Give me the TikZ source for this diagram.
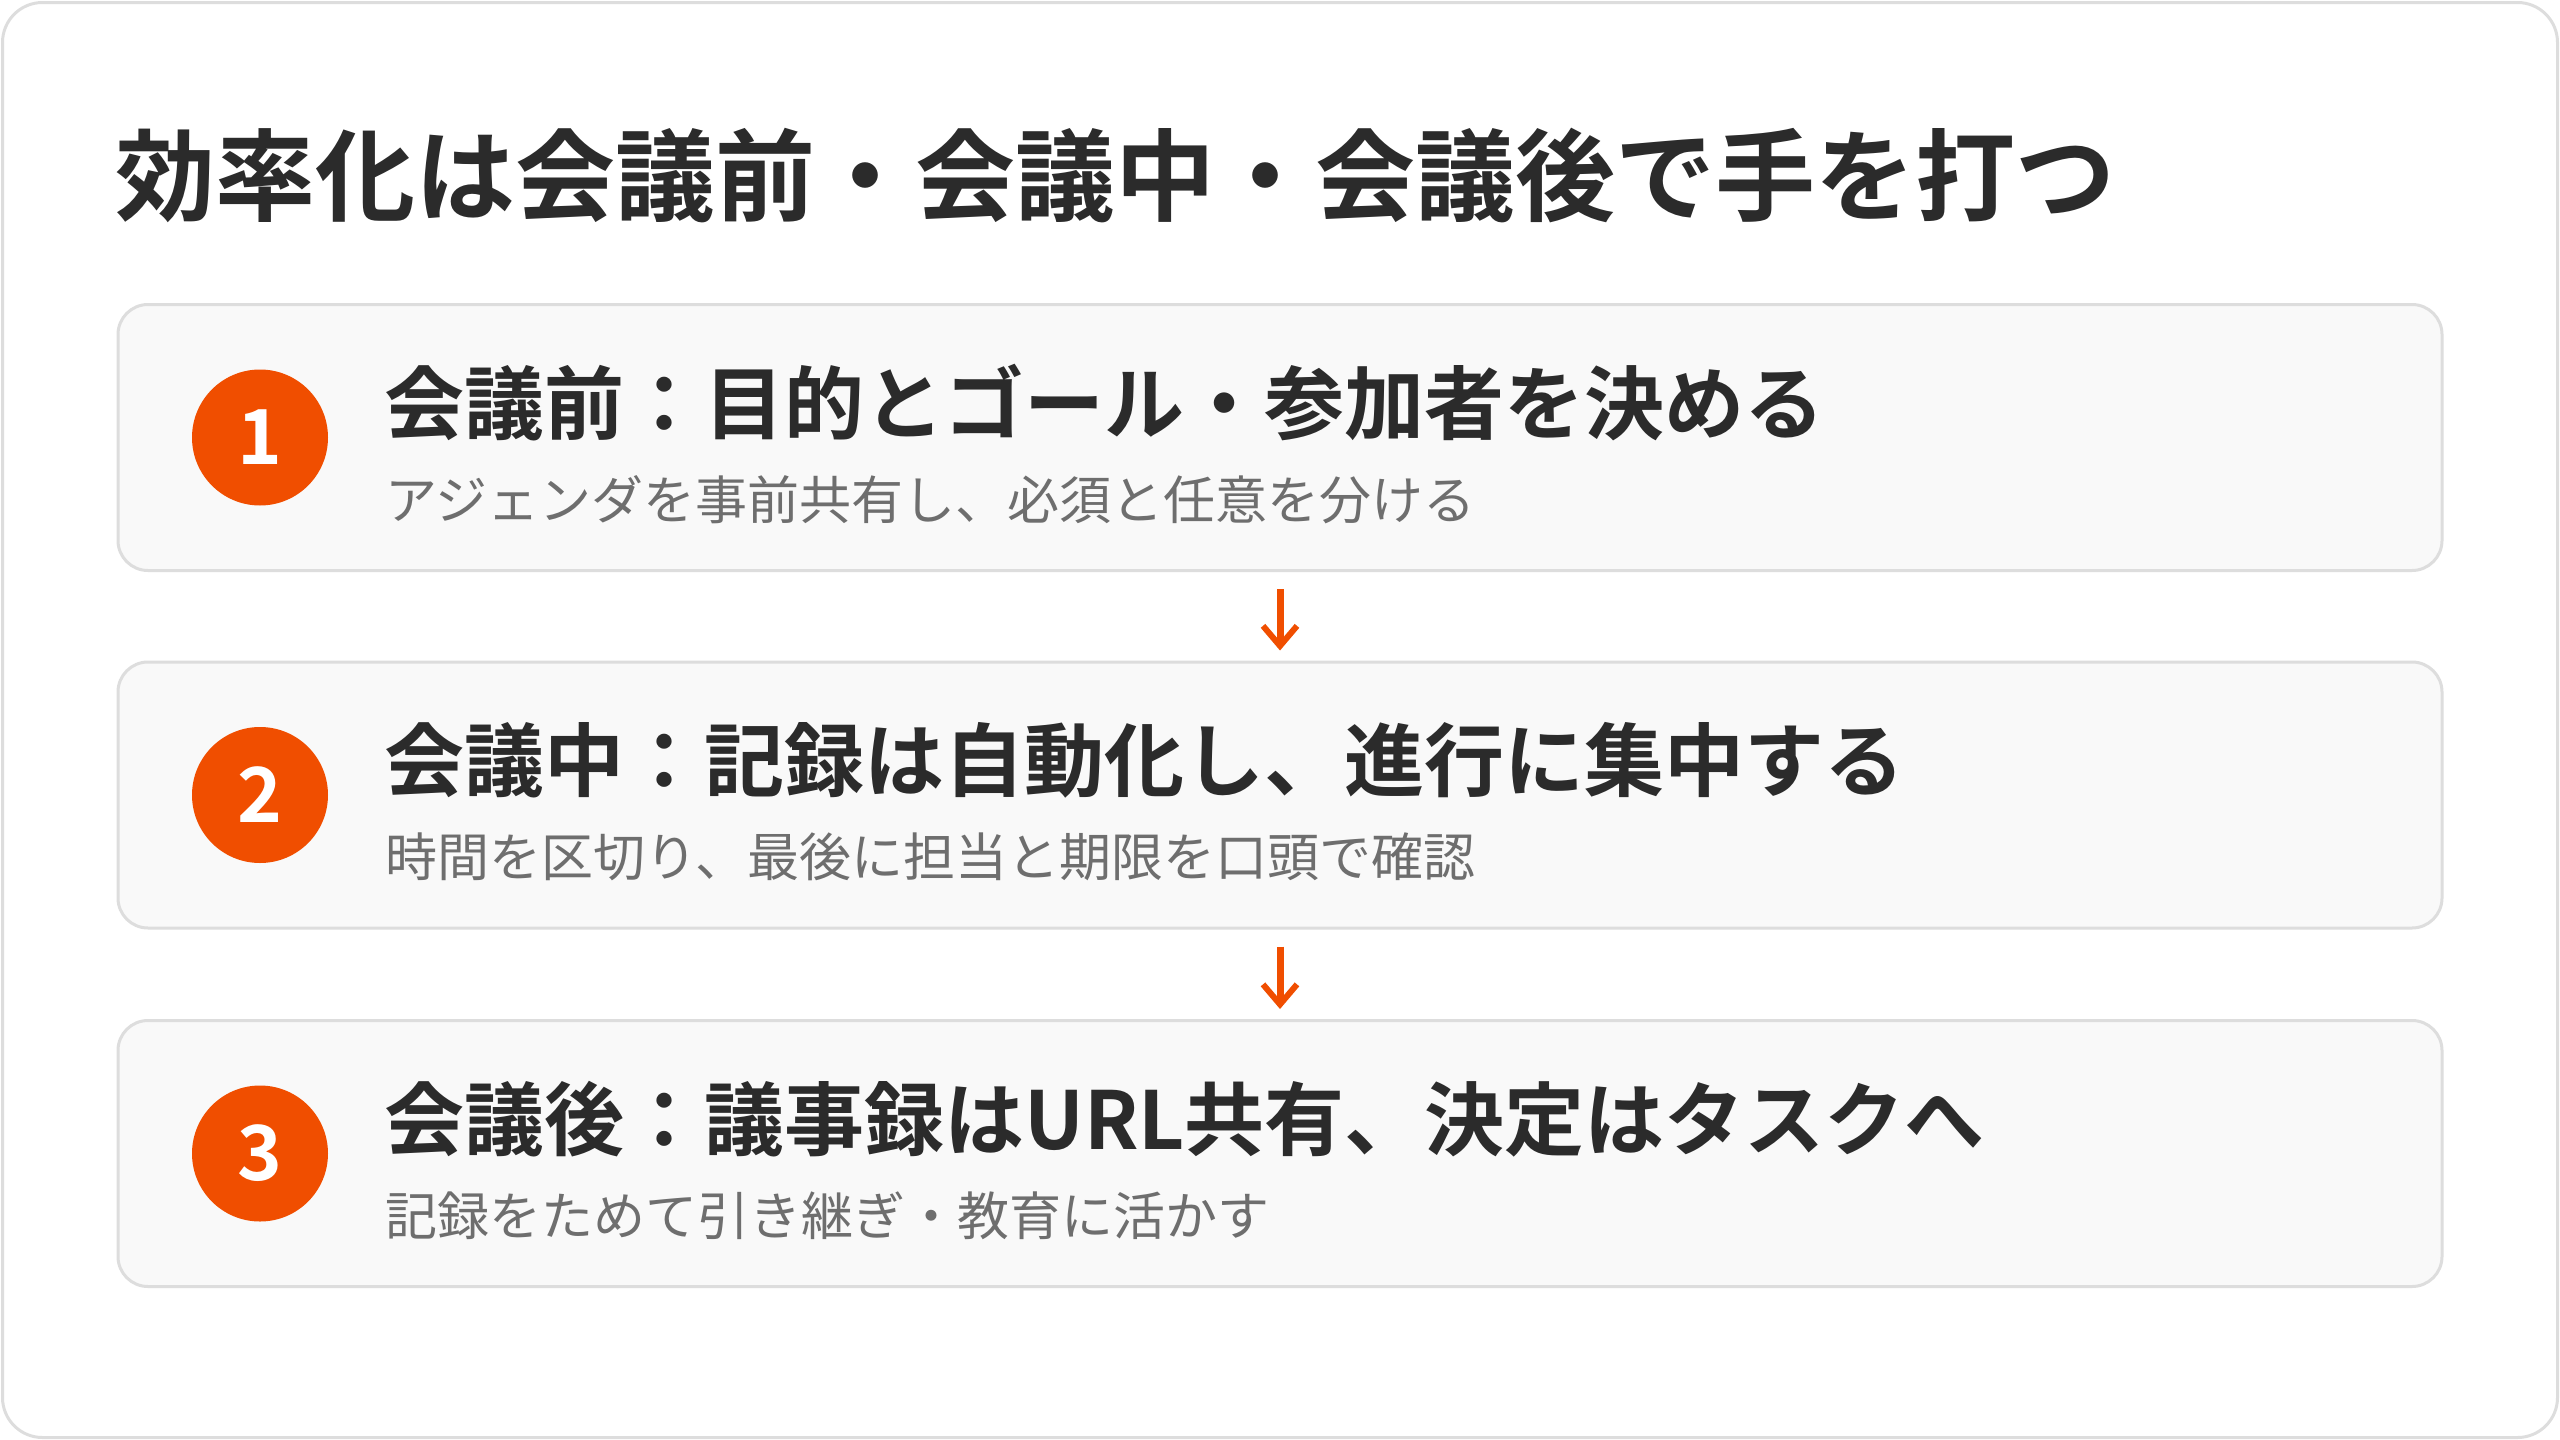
\documentclass[tikz,border=0pt]{standalone}
\usepackage{fontspec}
\setmainfont{Noto Sans CJK JP}[BoldFont={Noto Sans CJK JP Bold}]
\usetikzlibrary{arrows.meta}
\definecolor{framegray}{HTML}{DDDDDD}
\definecolor{cardfill}{HTML}{F9F9F9}
\definecolor{ink}{HTML}{2B2B2B}
\definecolor{subgray}{HTML}{6E6E6E}
\definecolor{accent}{HTML}{F04E00}
\tikzset{
  card/.style={draw=framegray, line width=3pt, fill=cardfill, rounded corners=30pt,
    minimum width=2324pt, minimum height=266pt, inner sep=0pt},
  numc/.style={circle, fill=accent, minimum size=136pt, inner sep=0pt, text=white,
    font=\fontsize{76pt}{80pt}\selectfont\bfseries},
  headtxt/.style={anchor=base west, inner sep=0pt, text=ink,
    font=\fontsize{80pt}{90pt}\selectfont\bfseries},
  subtxt/.style={anchor=base west, inner sep=0pt, text=subgray,
    font=\fontsize{52pt}{60pt}\selectfont},
  titletxt/.style={anchor=base west, inner sep=0pt, text=ink,
    font=\fontsize{100pt}{110pt}\selectfont\bfseries},
  flowarrow/.style={draw=accent, line width=7pt,
    -{Straight Barb[length=20pt,width=34pt,line width=6pt]},
    shorten <=17pt, shorten >=10pt}
}
\begin{document}
\begin{tikzpicture}[x=1pt,y=-1pt]
\useasboundingbox (0,0) rectangle (2560,1440);
\draw[framegray, line width=3pt, fill=white, rounded corners=40pt] (2.5,2.5) rectangle (2557.5,1437.5);

\node[titletxt] (title) at (115,213) {効率化は会議前・会議中・会議後で手を打つ};

\node[card] (c1) at (1280,437.5) {};
\node[card] (c2) at (1280,795) {};
\node[card] (c3) at (1280,1153.5) {};

\node[numc] (n1) at (260,437.5) {1};
\node[numc] (n2) at (260,795) {2};
\node[numc] (n3) at (260,1153.5) {3};

\node[headtxt] (h1) at (384,433) {会議前：目的とゴール・参加者を決める};
\node[subtxt] (s1) at (385,519) {アジェンダを事前共有し、必須と任意を分ける};

\node[headtxt] (h2) at (384,790.5) {会議中：記録は自動化し、進行に集中する};
\node[subtxt] (s2) at (385,876.5) {時間を区切り、最後に担当と期限を口頭で確認};

\node[headtxt] (h3) at (384,1149) {会議後：議事録はURL共有、決定はタスクへ};
\node[subtxt] (s3) at (385,1235) {記録をためて引き継ぎ・教育に活かす};

\draw[flowarrow] (c1.south) -- (c2.north);
\draw[flowarrow] (c2.south) -- (c3.north);
\end{tikzpicture}
\end{document}
